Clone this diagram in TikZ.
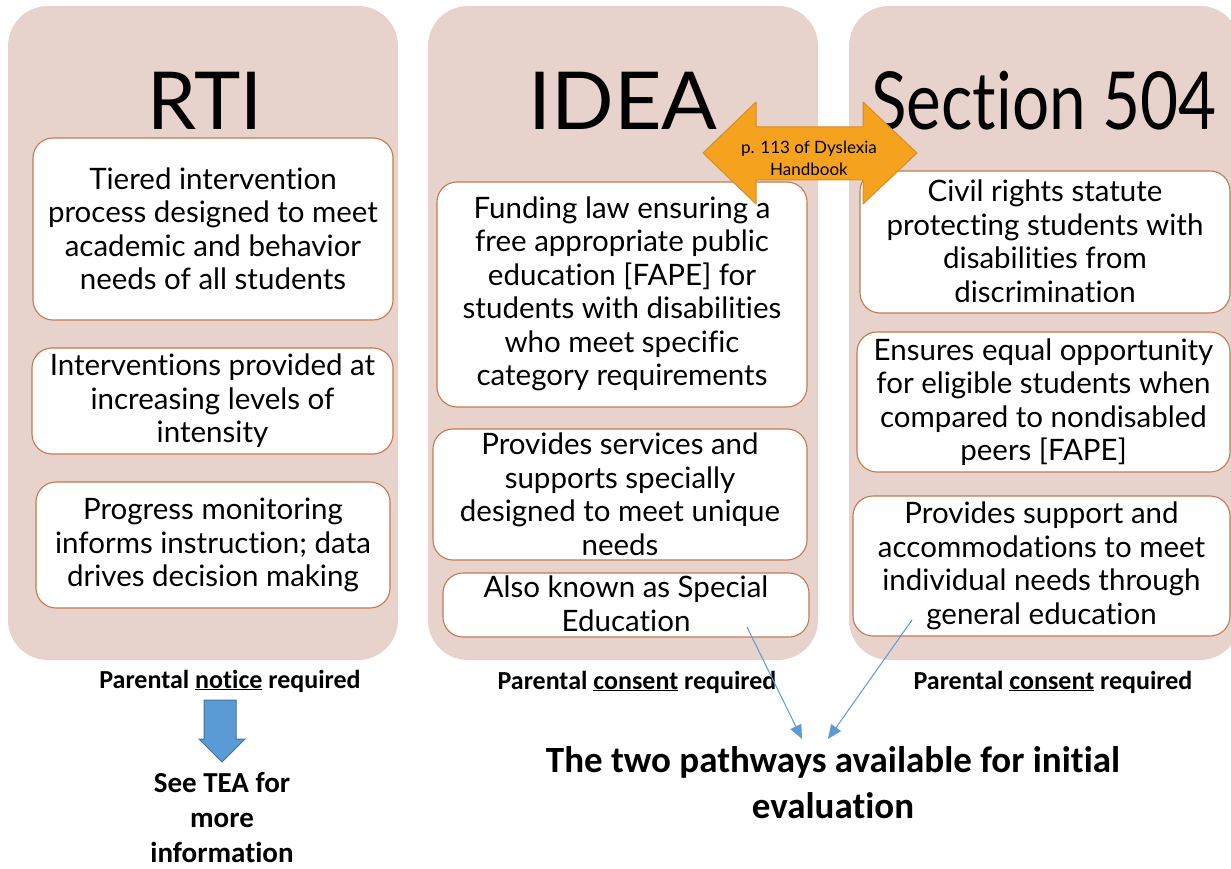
\documentclass[tikz,border=0pt]{standalone}
\usepackage{fontspec}
\setmainfont{Lato}[Ligatures={NoCommon,NoRare}]
\newfontfamily\calib{Carlito}[Ligatures={NoCommon,NoRare}]
\usetikzlibrary{arrows.meta}
\definecolor{panelfill}{RGB}{232,210,204}
\definecolor{boxline}{RGB}{196,122,80}
\definecolor{orangefill}{RGB}{245,163,30}
\definecolor{orangeline}{RGB}{214,140,40}
\definecolor{bluefill}{RGB}{91,155,213}
\definecolor{blueline}{RGB}{65,113,156}
\tikzset{
  panel/.style={fill=panelfill, draw=none, rounded corners=40pt},
  box/.style={draw=boxline, line width=1.1pt, fill=white, rounded corners=20pt, inner sep=0pt},
  boxtext/.style={align=center, font=\fontsize{29.5}{33.5}\selectfont, inner sep=0pt},
  title/.style={font=\fontsize{80}{90}\selectfont, anchor=base, inner sep=0pt},
  note/.style={font=\calib\bfseries\fontsize{26}{30}\selectfont, inner sep=0pt},
  bigbold/.style={font=\calib\bfseries\fontsize{29}{35}\selectfont, align=center, inner sep=0pt},
  thinarrow/.style={draw=bluefill, line width=1pt, -{Triangle[length=14pt,width=12pt]}}
}
\begin{document}
\begin{tikzpicture}[x=1pt,y=-1pt]
\useasboundingbox (0,0) rectangle (1231,869);
\begin{scope}
\clip (0,0) rectangle (1231,869);
% panels
\path[panel] (8,6) rectangle (398,660);
\path[panel] (428,6) rectangle (818,660);
\path[panel] (849,6) rectangle (1240,660);
% titles
\node[title] (tRTI) at (205,130) {\scalebox{0.98}[1]{RTI}};
\node[title] (tIDEA) at (623,130) {\scalebox{1.03}[1]{IDEA}};
\node[title] (t504) at (1044,130) {\scalebox{0.82}[1]{Section 504}};
% boxes
\node[box, minimum width=360pt, minimum height=182pt] (r1) at (213,229) {};
\node[box, minimum width=361pt, minimum height=106pt] (r2) at (212.5,401) {};
\node[box, minimum width=354pt, minimum height=126pt] (r3) at (213,545) {};
\node[box, minimum width=370pt, minimum height=225pt] (i1) at (622,294.5) {};
\node[box, minimum width=374pt, minimum height=131pt] (i2) at (620,494.5) {};
\node[box, minimum width=366pt, minimum height=64pt] (i3) at (626,605) {};
\node[box, minimum width=370pt, minimum height=142pt] (s1) at (1045,242) {};
\node[box, minimum width=373pt, minimum height=140pt] (s2) at (1043.5,402) {};
\node[box, minimum width=377pt, minimum height=140pt] (s3) at (1041.5,566) {};
\end{scope}
% orange double arrow
\draw[fill=orangefill, draw=orangeline, line width=1pt, line join=round]
  (703,153) -- (756,102) -- (756,127) -- (863,127) -- (863,102) -- (917,153)
  -- (863,204) -- (863,180) -- (756,180) -- (756,204) -- cycle;
\node[align=center, font=\fontsize{17}{22}\selectfont, inner sep=0pt] (oa) at (809,158) {p. 113 of Dyslexia\\Handbook};
% box texts
\node[boxtext] (r1t) at (r1) {Tiered intervention\\process designed to meet\\academic and behavior\\needs of all students};
\node[boxtext] (r2t) at (r2) {Interventions provided at\\increasing levels of\\intensity};
\node[boxtext] (r3t) at (r3) {Progress monitoring\\informs instruction; data\\drives decision making};
\node[boxtext] (i1t) at (622,294) {Funding law ensuring a\\free appropriate public\\education [FAPE] for\\students with disabilities\\who meet specific\\category requirements};
\node[boxtext] (i2t) at (i2) {Provides services and\\supports specially\\designed to meet unique\\needs};
\node[boxtext] (i3t) at (626,603.5) {Also known as Special\\Education};
\node[boxtext] (s1t) at (1045,241.5) {Civil rights statute\\protecting students with\\disabilities from\\discrimination};
\node[boxtext] (s2t) at (s2) {Ensures equal opportunity\\for eligible students when\\compared to nondisabled\\peers [FAPE]};
\node[boxtext] (s3t) at (s3) {Provides support and\\accommodations to meet\\individual needs through\\general education};
% notes
\node[note] (n1) at (230,681) {Parental \underline{notice} required};
\node[note] (n2) at (637,682) {Parental \underline{consent} required};
\node[note] (n3) at (1053,682) {Parental \underline{consent} required};
% blue down arrow
\draw[fill=bluefill, draw=blueline, line width=1pt, line join=miter]
  (204,700) -- (236,700) -- (236,739) -- (245,739) -- (222,762) -- (199,739) -- (204,739) -- cycle;
\node[bigbold] (tea) at (222,818) {See TEA for\\more\\information};
\node[bigbold, font=\calib\bfseries\fontsize{37}{46}\selectfont] (two) at (833,783) {The two pathways available for initial\\evaluation};
% thin blue connectors
\coordinate (a1) at (747,627);
\coordinate (a2) at (912,620);
\coordinate (h1) at (802,739);
\coordinate (h2) at (828,739);
\draw[thinarrow] (a1) -- (h1);
\draw[thinarrow] (a2) -- (h2);
\end{tikzpicture}
\end{document}
